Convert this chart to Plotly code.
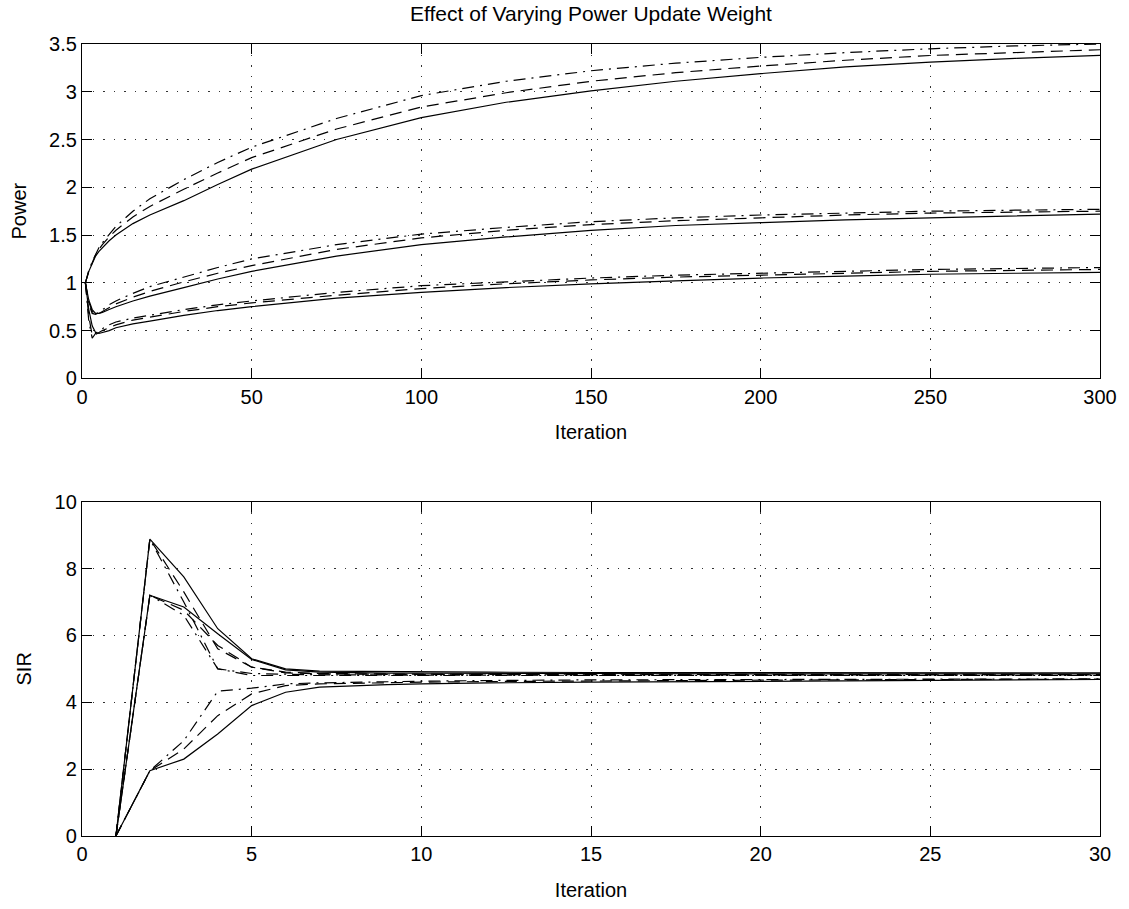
import plotly.graph_objects as go

# ---------------- data: Power vs iteration (top) ----------------
power_iter = [1, 2, 3, 4, 5, 6, 8, 10, 15, 20, 30, 40, 50, 75, 100, 125, 150, 175, 200, 225, 250, 275, 300]

p_user1_solid   = [1.0, 1.12, 1.20, 1.28, 1.33, 1.37, 1.44, 1.50, 1.62, 1.71, 1.86, 2.03, 2.19, 2.50, 2.73, 2.89, 3.01, 3.11, 3.19, 3.26, 3.31, 3.35, 3.38]
p_user1_dashed  = [1.0, 1.12, 1.21, 1.29, 1.35, 1.40, 1.48, 1.55, 1.69, 1.80, 1.98, 2.15, 2.31, 2.61, 2.84, 2.99, 3.11, 3.20, 3.27, 3.33, 3.38, 3.41, 3.44]
p_user1_dashdot = [1.0, 1.13, 1.22, 1.30, 1.37, 1.42, 1.51, 1.59, 1.75, 1.88, 2.08, 2.26, 2.42, 2.72, 2.96, 3.11, 3.22, 3.30, 3.36, 3.41, 3.45, 3.48, 3.50]

p_user2_solid   = [1.0, 0.82, 0.72, 0.68, 0.68, 0.69, 0.72, 0.75, 0.81, 0.86, 0.95, 1.04, 1.12, 1.28, 1.40, 1.48, 1.55, 1.60, 1.63, 1.66, 1.68, 1.70, 1.72]
p_user2_dashed  = [1.0, 0.80, 0.70, 0.67, 0.68, 0.70, 0.74, 0.78, 0.85, 0.91, 1.01, 1.10, 1.18, 1.35, 1.47, 1.55, 1.61, 1.65, 1.68, 1.71, 1.73, 1.74, 1.75]
p_user2_dashdot = [1.0, 0.78, 0.68, 0.67, 0.69, 0.72, 0.77, 0.81, 0.89, 0.96, 1.06, 1.16, 1.25, 1.40, 1.51, 1.58, 1.64, 1.68, 1.71, 1.73, 1.75, 1.76, 1.77]

p_user3_solid   = [1.0, 0.72, 0.55, 0.48, 0.47, 0.48, 0.50, 0.53, 0.57, 0.60, 0.66, 0.71, 0.75, 0.84, 0.90, 0.95, 0.99, 1.02, 1.05, 1.07, 1.09, 1.10, 1.11]
p_user3_dashed  = [1.0, 0.65, 0.45, 0.46, 0.48, 0.50, 0.53, 0.56, 0.61, 0.64, 0.70, 0.75, 0.79, 0.87, 0.94, 0.99, 1.03, 1.06, 1.08, 1.10, 1.12, 1.13, 1.14]
p_user3_dashdot = [1.0, 0.60, 0.42, 0.47, 0.50, 0.52, 0.56, 0.59, 0.63, 0.66, 0.72, 0.77, 0.81, 0.90, 0.97, 1.01, 1.05, 1.08, 1.10, 1.12, 1.14, 1.15, 1.16]

# ---------------- data: SIR vs iteration (bottom) ----------------
sir_iter = [1, 2, 3, 4, 5, 6, 7, 8, 9, 10, 12, 15, 20, 25, 30]

s_user1_solid   = [0, 8.88, 7.75, 6.20, 5.30, 5.00, 4.93, 4.92, 4.91, 4.90, 4.90, 4.89, 4.89, 4.88, 4.88]
s_user1_dashed  = [0, 8.88, 7.30, 5.60, 5.05, 4.90, 4.86, 4.85, 4.85, 4.84, 4.84, 4.84, 4.83, 4.83, 4.83]
s_user1_dashdot = [0, 8.88, 7.00, 5.00, 4.86, 4.83, 4.82, 4.82, 4.81, 4.81, 4.81, 4.80, 4.80, 4.80, 4.80]

s_user2_solid   = [0, 7.20, 6.85, 6.05, 5.28, 4.97, 4.90, 4.88, 4.87, 4.87, 4.86, 4.86, 4.85, 4.85, 4.85]
s_user2_dashed  = [0, 7.20, 6.75, 5.70, 5.05, 4.88, 4.85, 4.84, 4.83, 4.83, 4.83, 4.82, 4.82, 4.82, 4.82]
s_user2_dashdot = [0, 7.20, 6.60, 5.00, 4.80, 4.80, 4.80, 4.80, 4.80, 4.80, 4.80, 4.80, 4.80, 4.80, 4.80]

s_user3_solid   = [0, 1.95, 2.30, 3.05, 3.90, 4.30, 4.45, 4.50, 4.53, 4.55, 4.58, 4.60, 4.63, 4.66, 4.68]
s_user3_dashed  = [0, 1.95, 2.60, 3.60, 4.25, 4.50, 4.55, 4.57, 4.58, 4.60, 4.62, 4.64, 4.66, 4.68, 4.69]
s_user3_dashdot = [0, 1.95, 2.85, 4.33, 4.42, 4.55, 4.58, 4.60, 4.62, 4.63, 4.65, 4.67, 4.68, 4.70, 4.70]

power_series = [
    (p_user1_solid, "solid"), (p_user1_dashed, "dashed"), (p_user1_dashdot, "dashdot"),
    (p_user2_solid, "solid"), (p_user2_dashed, "dashed"), (p_user2_dashdot, "dashdot"),
    (p_user3_solid, "solid"), (p_user3_dashed, "dashed"), (p_user3_dashdot, "dashdot"),
]
sir_series = [
    (s_user1_solid, "solid"), (s_user1_dashed, "dashed"), (s_user1_dashdot, "dashdot"),
    (s_user2_solid, "solid"), (s_user2_dashed, "dashed"), (s_user2_dashdot, "dashdot"),
    (s_user3_solid, "solid"), (s_user3_dashed, "dashed"), (s_user3_dashdot, "dashdot"),
]

DASH = {"solid": "solid", "dashed": "12px,7px", "dashdot": "12px,6px,2px,6px"}

fig = go.Figure()
for vals, style in power_series:
    fig.add_trace(go.Scatter(x=power_iter, y=vals, mode="lines", xaxis="x", yaxis="y",
                             line=dict(color="black", width=1.2, dash=DASH[style]),
                             showlegend=False, hoverinfo="skip"))
for vals, style in sir_series:
    fig.add_trace(go.Scatter(x=sir_iter, y=vals, mode="lines", xaxis="x2", yaxis="y2",
                             line=dict(color="black", width=1.2, dash=DASH[style]),
                             showlegend=False, hoverinfo="skip"))

FONT = "Liberation Sans, Arial, Helvetica, sans-serif"
axis_common = dict(
    showline=True, linecolor="black", linewidth=1.3, mirror="ticks",
    ticks="inside", ticklen=10, tickcolor="black", tickwidth=1.3,
    showgrid=True, gridcolor="#333333", gridwidth=1, griddash="1.5px,9px",
    zeroline=False, tickfont=dict(family=FONT, size=20, color="black"),
)

W, H = 1129, 909
t, b = 44, 62
plot_h = H - t - b
top_dom = [(847 - 383) / plot_h, 1.0]
bot_dom = [0.0, (847 - 508) / plot_h]

fig.update_layout(
    width=W, height=H,
    margin=dict(l=82, r=29, t=t, b=b),
    paper_bgcolor="white", plot_bgcolor="white",
    font=dict(family=FONT, size=20, color="black"),
    title=dict(text="Effect of Varying Power Update Weight", x=(82 + 1100) / 2 / W, xanchor="center",
               y=1 - 14 / H, yanchor="middle", font=dict(family=FONT, size=21, color="black")),
    xaxis=dict(domain=[0, 1], anchor="y", range=[0, 300], tick0=0, dtick=50,
               title=dict(text="Iteration", standoff=18, font=dict(size=20)), **axis_common),
    yaxis=dict(domain=top_dom, anchor="x", range=[0, 3.5], tick0=0, dtick=0.5,
               title=dict(text="Power", standoff=17, font=dict(size=20)), **axis_common),
    xaxis2=dict(domain=[0, 1], anchor="y2", range=[0, 30], tick0=0, dtick=5,
                title=dict(text="Iteration", standoff=18, font=dict(size=20)), **axis_common),
    yaxis2=dict(domain=bot_dom, anchor="x2", range=[0, 10], tick0=0, dtick=2,
                title=dict(text="SIR", standoff=17, font=dict(size=20)), **axis_common),
)

fig.write_html("out.html", config={"displayModeBar": False},
               post_script="document.body.style.margin='0px';")
